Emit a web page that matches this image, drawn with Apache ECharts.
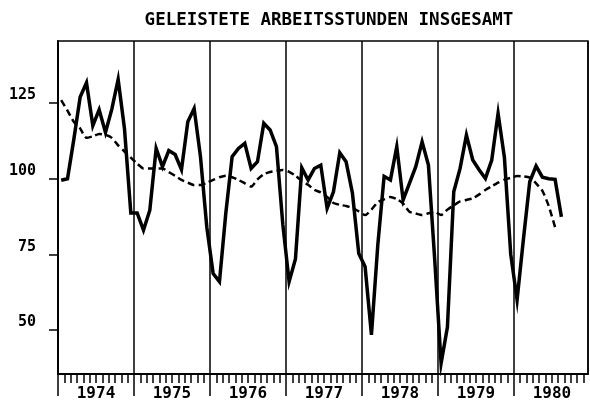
<!DOCTYPE html>
<html>
<head>
<meta charset="utf-8">
<script src="https://cdn.jsdelivr.net/npm/echarts@6/dist/echarts.min.js"></script>
<style>
  html, body { margin: 0; padding: 0; background: #fff; }
  #chart { width: 590px; height: 405px; }
</style>
</head>
<body>
<div id="chart"></div>
<script>
// Monatswerte Jan 1974 .. Aug 1980
const actual = [
  99.5, 100, 113, 127, 131.7, 117.5, 122.8, 115.3, 123, 132.8, 116.5, 88.7,
  88.7, 83, 89.6, 110, 104, 109.3, 108, 103, 118.8, 123.2, 107.3, 84,
  68.7, 66, 88.6, 107.3, 110, 111.7, 103.4, 105.6, 118.3, 116.1, 110.6, 85,
  66, 73.5, 103.6, 99.6, 103.4, 104.5, 90.2, 95.7, 108.6, 105.6, 95.2, 75.3,
  70.9, 48.4, 78, 100.8, 99.6, 110.6, 93, 98.5, 104, 112.2, 104.5, 73,
  39, 51, 95.7, 103.4, 114.4, 106.2, 103, 100.1, 106.2, 121.6, 107, 75,
  60, 80, 99, 104.2, 100.5, 100, 99.8, 87.4
];
// Trend Jan 1974 .. Jul 1980
const trend = [
  126, 122.5, 118.8, 116.6, 113.5, 114, 114.8, 114.5, 113.5, 111, 109, 107,
  105, 103.4, 103.4, 103.4, 103.4, 102.2, 101, 99.6, 98.7, 97.9, 97.9, 98.7,
  99.6, 100.5, 101, 100.5, 99.6, 98.5, 97.4, 99.8, 101.5, 102.2, 102.6, 102.9,
  102.3, 101, 99.3, 98, 96.3, 95.5, 94, 92, 91.4, 91, 90.4, 89.2,
  88, 89.8, 92.3, 93.2, 94, 93.3, 91.8, 89.1, 88.5, 88, 88.6, 89.1,
  88, 89.8, 91.2, 92.5, 93, 93.5, 94.8, 96.3, 97.5, 98.7, 99.7, 100.3,
  100.9, 100.8, 100.4, 98.5, 96, 91, 84
];
const years = ['1974', '1975', '1976', '1977', '1978', '1979', '1980'];
const yTicks = [50, 75, 100, 125];

const monthTicks = [];
for (let m = 0; m < 84; m++) monthTicks.push(m);
const yearStarts = years.map((y, i) => i * 12);
const yearMids = years.map((y, i) => i * 12 + 6);

const toPoints = arr => arr.map((v, i) => [i + 0.5, v]);

const chart = echarts.init(document.getElementById('chart'));

const fontMono = '"DejaVu Sans Mono", "Liberation Mono", monospace';

chart.setOption({
  animation: false,
  title: {
    text: 'GELEISTETE ARBEITSSTUNDEN INSGESAMT',
    left: 324,
    top: 6,
    textAlign: 'center',
    textStyle: { fontFamily: fontMono, fontWeight: 'bold', fontSize: 17.5, color: '#000' }
  },
  grid: {
    left: 58, right: 2, top: 41, bottom: 31,
    show: true, borderColor: '#000', borderWidth: 1.5
  },
  xAxis: [
    {
      type: 'value', min: 0, max: 83.7,
      axisLine: { show: true, lineStyle: { color: '#000', width: 2 } },
      axisTick: { show: true, customValues: monthTicks, length: 9, lineStyle: { color: '#000', width: 1.5 } },
      axisLabel: {
        customValues: yearMids, margin: 12,
        formatter: v => years[Math.round((v - 6) / 12)],
        fontFamily: fontMono, fontWeight: 'bold', fontSize: 16, color: '#000'
      },
      splitLine: { show: false }
    },
    {
      type: 'value', min: 0, max: 83.7, position: 'bottom',
      axisLine: { show: false },
      axisTick: { show: true, customValues: yearStarts, length: 22, lineStyle: { color: '#000', width: 1.5 } },
      axisLabel: { show: false },
      splitLine: { show: false }
    },
    {
      type: 'value', min: 0, max: 83.7, interval: 12, position: 'bottom',
      axisLine: { show: false }, axisTick: { show: false }, axisLabel: { show: false },
      splitLine: { show: true, lineStyle: { color: '#000', width: 1.5 } }
    }
  ],
  yAxis: {
    type: 'value', min: 35.5, max: 145.5,
    axisLine: { show: true, lineStyle: { color: '#000', width: 2 } },
    axisTick: { show: true, customValues: yTicks, length: 9, lineStyle: { color: '#000', width: 1.5 } },
    axisLabel: {
      customValues: yTicks, margin: 22, verticalAlign: 'bottom',
      fontFamily: fontMono, fontWeight: 'bold', fontSize: 15, color: '#000'
    },
    splitLine: { show: false }
  },
  series: [
    {
      type: 'line', xAxisIndex: 0,
      data: toPoints(actual),
      symbol: 'none',
      lineStyle: { color: '#000', width: 3.5, join: 'miter' }
    },
    {
      type: 'line', xAxisIndex: 0,
      data: toPoints(trend),
      symbol: 'none', smooth: 0.2,
      lineStyle: { color: '#000', width: 2.5, type: [7, 4] }
    }
  ]
});
</script>
</body>
</html>
